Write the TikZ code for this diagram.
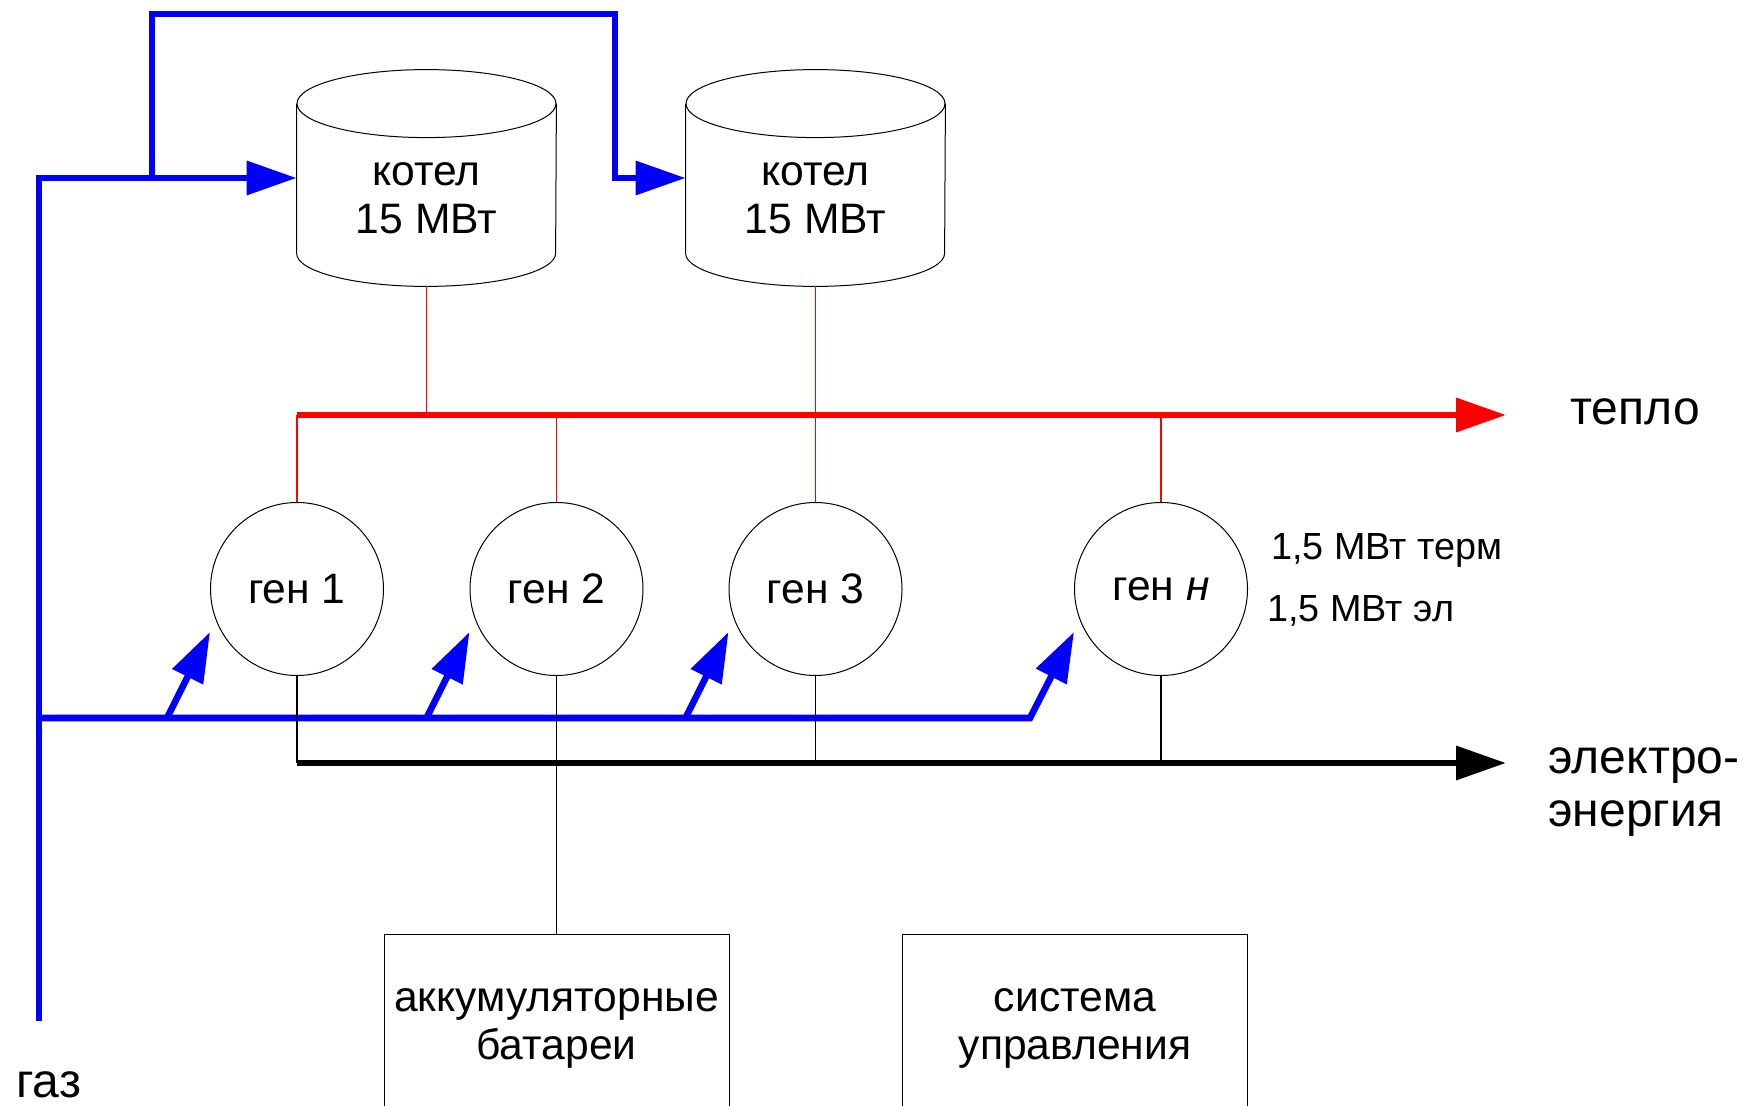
\documentclass[tikz,border=0pt]{standalone}
\usepackage{fontspec}
\setmainfont{Liberation Sans}
\usetikzlibrary{arrows.meta, calc, positioning}

\begin{document}
\begin{tikzpicture}[x=0.5pt, y=-0.5pt,
    gas/.style={blue, line width=3.3pt},
    heat/.style={red, line width=3.3pt},
    heatline/.style={red, line width=0.6pt},
    el/.style={black, line width=3.3pt},
    elline/.style={black, line width=0.6pt},
    flowarrow/.style={-{Triangle[length=25pt, width=16.5pt]}},
    kotel/.style={rectangle, inner sep=0pt, minimum width=129.5pt, minimum height=108pt},
    gen/.style={circle, draw, line width=0.5pt, inner sep=0pt, minimum size=86.5pt,
      font=\fontsize{21.3}{24}\selectfont},
    box/.style={rectangle, draw, line width=0.5pt, inner sep=0pt, minimum width=172.5pt,
      minimum height=94pt, anchor=north, align=center, font=\fontsize{21.3}{24}\selectfont},
    txt/.style={inner sep=0pt, align=center, font=\fontsize{21.3}{24}\selectfont},
    big/.style={inner sep=0pt, align=left, anchor=west, font=\fontsize{24}{26.5}\selectfont},
    small/.style={inner sep=0pt, anchor=west, font=\fontsize{18.9}{20}\selectfont}]

    \useasboundingbox (0,0) rectangle (1759,1106);
    \clip (0,0) rectangle (1759,1106);

    % the two boilers (cylinders drawn round the kotel nodes)
    \node[kotel] (kotel1) at (426.5,178) {};
    \node[kotel] (kotel2) at (815.5,178) {};
    \foreach \k in {kotel1,kotel2} {
      \draw[line width=0.5pt] ($(\k.north)+(0,34)$) ellipse [x radius=129.5, y radius=34];
      \draw[line width=0.5pt] ([yshift=-17pt]\k.north west) -- ([yshift=16.5pt]\k.south west)
        arc [start angle=180, end angle=0, x radius=129.5, y radius=33]
        -- ([yshift=-17pt]\k.north east);
    }
    \node[txt] (kotel1t) at (426.5,198) {котел\\15 МВт};
    \node[txt] (kotel2t) at (815.5,198) {котел\\15 МВт};

    % generators
    \node[gen] (gen1) at (297,589) {ген 1};
    \node[gen] (gen2) at (556.5,589) {ген 2};
    \node[gen] (gen3) at (815.5,589) {ген 3};
    \node[gen] (genN) at (1161,589) {ген \textit{н}};
    \node[small] (term) at (1271,550) {1,5 МВт терм};
    \node[small] (elpow) at (1267,611) {1,5 МВт эл};

    % batteries and control system at the bottom
    \node[box] (akk) at (556.5,934) {аккумуляторные\\батареи};
    \node[box] (sys) at (1075,934) {система\\управления};

    % gas supply (blue)
    \coordinate (gasin) at (39,1021);
    \coordinate (gasbr) at (152,178);
    \coordinate (gastop) at (615,14);
    \coordinate (gasbus) at (39,718);
    \coordinate (gasend) at (1030,718);
    \draw[gas, flowarrow] (gasin) |- (kotel1.west);
    \draw[gas, flowarrow] (gasbr) |- (gastop) |- (kotel2.west);
    \draw[gas, flowarrow] (gasbus) -- (gasend) -- ($(genN.west)+(0,43)$);
    \foreach \g in {gen1,gen2,gen3}
      \draw[gas, flowarrow] ($(\g.center)+(-130,129)$) -- ($(\g.west)+(0,43)$);
    \node[inner sep=0pt, anchor=west, font=\fontsize{24}{26}\selectfont] (gaz) at (16,1085) {газ};

    % heat (red)
    \coordinate (heatend) at (1506,415);
    \draw[heat, flowarrow] (gen1.north |- heatend) -- (heatend);
    \draw[heatline] (kotel1.south) -- (kotel1.south |- heatend);
    \draw[heatline] (kotel2.south) -- (gen3.north);
    \foreach \g in {gen1,gen2,genN}
      \draw[heatline] (\g.north) -- (\g.north |- heatend);
    \node[big] (teplo) at (1570,412) {тепло};

    % electricity (black)
    \coordinate (elend) at (1506,763);
    \draw[el, flowarrow] (gen1.south |- elend) -- (elend);
    \foreach \g in {gen1,gen3,genN}
      \draw[elline] (\g.south) -- (\g.south |- elend);
    \draw[elline] (gen2.south) -- (akk.north);
    \node[big] (elektro) at (1548,792) {электро-\\энергия};

\end{tikzpicture}
\end{document}
